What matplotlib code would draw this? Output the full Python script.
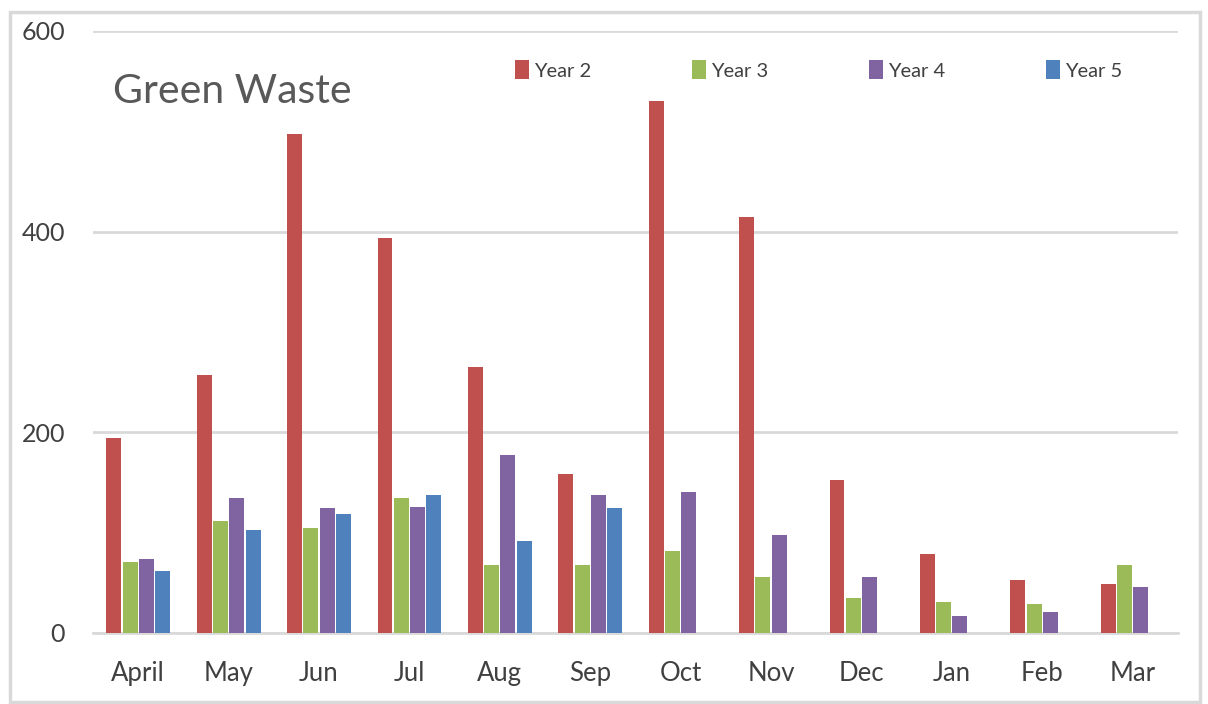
import numpy as np
import matplotlib
matplotlib.use("Agg")
import matplotlib.pyplot as plt
from matplotlib.patches import Rectangle

months = ["April", "May", "Jun", "Jul", "Aug", "Sep", "Oct", "Nov", "Dec", "Jan", "Feb", "Mar"]
year2 = [194, 257, 497, 394, 265, 158, 530, 415, 152, 79, 53, 49]
year3 = [71, 112, 105, 134, 68, 68, 82, 56, 35, 31, 29, 68]
year4 = [74, 134, 124, 125, 177, 137, 140, 98, 56, 17, 21, 46]
year5 = [62, 103, 119, 137, 92, 124, np.nan, np.nan, np.nan, np.nan, np.nan, np.nan]
series_names = ["Year 2", "Year 3", "Year 4", "Year 5"]
colors = ["#C0504D", "#9BBB59", "#8064A2", "#4F81BD"]

plt.rcParams['font.family'] = ['Lato', 'DejaVu Sans']

fig = plt.figure(figsize=(12.08, 7.04), dpi=100)
ax = fig.add_axes([0.077, 0.101, 0.898, 0.855])

x = np.arange(len(months))
w = 0.18
series = [year2, year3, year4, year5]
handles = []
for i, (vals, c, name) in enumerate(zip(series, colors, series_names)):
    b = ax.bar(x + (i - 1.5) * w, vals, width=w * 0.92, color=c, label=name, zorder=3)
    handles.append(b)

ax.set_xlim(-0.5, len(months) - 0.5)
ax.set_ylim(0, 600)
ax.set_yticks([0, 200, 400, 600])
ax.set_xticks(x)
ax.set_xticklabels(months, fontsize=18.5, color="#404040")
ax.tick_params(axis='y', labelsize=18, labelcolor="#404040", length=0, pad=20)
ax.tick_params(axis='x', length=0, pad=20)
ax.grid(axis='y', color="#D9D9D9", linewidth=2, zorder=0)
ax.set_axisbelow(True)
for s in ["top", "right", "left"]:
    ax.spines[s].set_visible(False)
ax.spines["bottom"].set_color("#D9D9D9")
ax.spines["bottom"].set_linewidth(2)

ax.text(0.018, 0.90, "Green Waste", transform=ax.transAxes, fontsize=29.5,
        color="#595959", va="center", ha="left")

ax.legend(handles=handles, labels=series_names, ncol=4, frameon=False,
          loc="center", bbox_to_anchor=(0.669, 0.935), fontsize=14.5,
          handlelength=0.7, handleheight=1.05, handletextpad=0.25,
          columnspacing=5.0, labelcolor="#404040")

fig.patches.append(Rectangle((10 / 1208, 2 / 704), 1190 / 1208, 690 / 704,
                             transform=fig.transFigure, fill=False,
                             edgecolor="#D9D9D9", linewidth=2.5))

fig.savefig("out.png", dpi=100, facecolor="white")
